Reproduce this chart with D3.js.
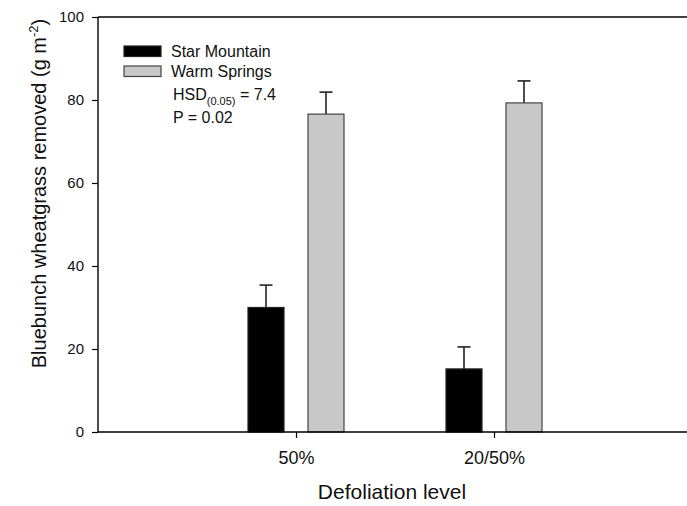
<!DOCTYPE html>
<html>
<head>
<meta charset="utf-8">
<script src="https://cdn.jsdelivr.net/npm/d3@7"></script>
<style>
  html, body { margin: 0; padding: 0; background: #fff; }
  svg { display: block; font-family: "Liberation Sans", Arial, sans-serif; }
</style>
</head>
<body>
<svg id="chart" width="687" height="506"></svg>
<script>
// ---- data ----
const categories = ["50%", "20/50%"];
const seriesNames = ["Star Mountain", "Warm Springs"];
const starMountain = [30.0, 15.2];
const starMountainErr = [5.4, 5.3];
const warmSprings = [76.6, 79.3];
const warmSpringsErr = [5.3, 5.3];
const yTicks = [0, 20, 40, 60, 80, 100];

(function () {
// ---- layout ----
const svg = d3.select("#chart");
const mLeft = 98, mRight = 692, mTop = 17, mBottom = 432;

const y = d3.scaleLinear().domain([0, 100]).range([mBottom, mTop]);
const x = d3.scaleLinear().domain([0, 3]).range([mLeft, mRight]);
const catPos = d3.scalePoint().domain(categories).range([1, 2]);
const sub = d3.scaleBand().domain(seriesNames).range([-48, 48]).paddingInner(0.4).paddingOuter(0);

const fills = { "Star Mountain": "#000000", "Warm Springs": "#c8c8c8" };
const strokes = { "Star Mountain": "#222", "Warm Springs": "#444" };

const rows = [];
categories.forEach((c, i) => {
  rows.push({ cat: c, series: seriesNames[0], v: starMountain[i], e: starMountainErr[i] });
  rows.push({ cat: c, series: seriesNames[1], v: warmSprings[i], e: warmSpringsErr[i] });
});
const cx = d => x(catPos(d.cat));

// error bars (upward only), drawn under bars
const eg = svg.append("g").attr("stroke", "#222").attr("stroke-width", 1.6);
rows.forEach(d => {
  const mx = cx(d) + sub(d.series) + sub.bandwidth() / 2;
  eg.append("line").attr("x1", mx).attr("x2", mx).attr("y1", y(d.v)).attr("y2", y(d.v + d.e));
  eg.append("line").attr("x1", mx - 6.5).attr("x2", mx + 6.5).attr("y1", y(d.v + d.e)).attr("y2", y(d.v + d.e));
});

// bars
svg.append("g").selectAll("rect").data(rows).join("rect")
  .attr("x", d => cx(d) + sub(d.series))
  .attr("width", sub.bandwidth())
  .attr("y", d => y(d.v))
  .attr("height", d => y(0) - y(d.v))
  .attr("fill", d => fills[d.series])
  .attr("stroke", d => strokes[d.series])
  .attr("stroke-width", 1.2);

// y axis
const yAxis = d3.axisLeft(y).tickValues(yTicks).tickSize(6).tickPadding(8);
const yg = svg.append("g").attr("transform", `translate(${mLeft},0)`).call(yAxis);
yg.select(".domain").attr("stroke", "#000").attr("stroke-width", 1.4).attr("d", `M0,${mTop}V${mBottom}`);
yg.selectAll(".tick line").attr("stroke", "#000").attr("stroke-width", 1.2);
yg.selectAll(".tick text").attr("font-size", 15).attr("fill", "#111")
  .attr("font-family", "'Liberation Sans', Arial, sans-serif");

// x axis
const xAxis = d3.axisBottom(x).tickValues(categories.map(c => catPos(c)))
  .tickFormat((v, i) => categories[i]).tickSize(6).tickPadding(13);
const xg = svg.append("g").attr("transform", `translate(0,${mBottom})`).call(xAxis);
xg.select(".domain").attr("stroke", "#000").attr("stroke-width", 1.4).attr("d", `M${mLeft},0H${mRight}`);
xg.selectAll(".tick line").attr("stroke", "#000").attr("stroke-width", 1.2);
xg.selectAll(".tick text").attr("font-size", 18).attr("fill", "#111")
  .attr("font-family", "'Liberation Sans', Arial, sans-serif");

// top frame line
svg.append("line").attr("x1", mLeft).attr("x2", mRight).attr("y1", mTop).attr("y2", mTop)
  .attr("stroke", "#000").attr("stroke-width", 1.4);

// axis titles
svg.append("text").attr("x", 392).attr("y", 499)
  .attr("text-anchor", "middle").attr("font-size", 21).attr("fill", "#111")
  .text("Defoliation level");

const yt = svg.append("text")
  .attr("transform", `translate(46,${(mTop + mBottom) / 2 - 31}) rotate(-90)`)
  .attr("text-anchor", "middle").attr("font-size", 20).attr("fill", "#111");
yt.append("tspan").text("Bluebunch wheatgrass removed (g m");
yt.append("tspan").attr("font-size", 13).attr("dy", -8).text("-2");
yt.append("tspan").attr("dy", 8).text(")");

// legend
const lg = svg.append("g");
seriesNames.forEach((s, i) => {
  lg.append("rect").attr("x", 124).attr("y", 46 + i * 20).attr("width", 37).attr("height", 10.5)
    .attr("fill", fills[s]).attr("stroke", strokes[s]).attr("stroke-width", 1.2);
  lg.append("text").attr("x", 171).attr("y", 57 + i * 20).attr("font-size", 16).attr("fill", "#111").text(s);
});
const hsd = lg.append("text").attr("x", 173).attr("y", 100).attr("font-size", 16).attr("fill", "#111");
hsd.append("tspan").text("HSD");
hsd.append("tspan").attr("font-size", 11).attr("dy", 5).text("(0.05)");
hsd.append("tspan").attr("dy", -5).text(" = 7.4");
lg.append("text").attr("x", 173).attr("y", 123).attr("font-size", 16).attr("fill", "#111").text("P = 0.02");
})();
</script>
</body>
</html>
